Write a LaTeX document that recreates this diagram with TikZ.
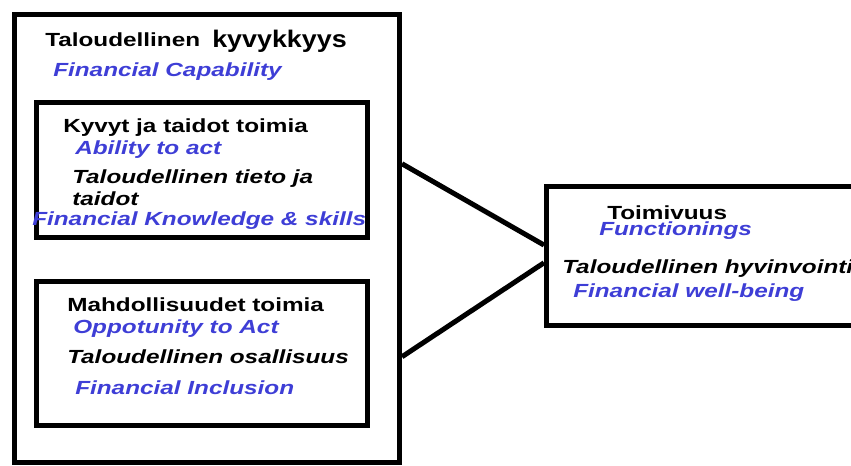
\documentclass[tikz,border=0pt]{standalone}
\usepackage{fontspec}
\usetikzlibrary{calc}
\newfontfamily\labfont{Liberation Sans}[FakeStretch=1.28]
\newfontfamily\bigfont{Liberation Sans}[FakeStretch=1.12]
\definecolor{finblue}{RGB}{62,62,214}
\tikzset{
  box/.style={draw, line width=3.75pt, rectangle, anchor=north west, inner sep=0},
  link/.style={line width=3.75pt},
  fi/.style={anchor=base west, inner sep=0, font=\labfont\fontsize{14.25pt}{17pt}\selectfont\bfseries},
  fiit/.style={fi, font=\labfont\fontsize{14.25pt}{17pt}\selectfont\bfseries\itshape},
  en/.style={fiit, text=finblue}
}
\begin{document}
\begin{tikzpicture}[x=0.75pt,y=-0.75pt]
    \path[use as bounding box, clip] (0,0) rectangle (851,465);
    % boxes
    \node (cap) [box, minimum width=288.75pt, minimum height=336pt] at (12,12) {};
    \node (able) [box, minimum width=248.25pt, minimum height=101.25pt] at (34,100) {};
    \node (opp) [box, minimum width=248.25pt, minimum height=108pt] at (34,279) {};
    \node (func) [box, minimum width=250pt, minimum height=104.25pt] at (544,184) {};
    % texts
    \node (capfi) [fi] at (45,46) {Taloudellinen};
    \node (capbig) [anchor=base west, inner sep=0, font=\bigfont\fontsize{18pt}{22pt}\selectfont\bfseries] at (212,47) {kyvykkyys};
    \node (capen) [en] at (53,76) {Financial Capability};
    \node (ablefi) [fi] at (63,132) {Kyvyt ja taidot toimia};
    \node (ableen) [en] at (75,154) {Ability to act};
    \node (knowfi) [fiit] at (72,183) {Taloudellinen tieto ja};
    \node (knowfib) [fiit] at (72,205) {taidot};
    \node (knowen) [en] at (32,225) {Financial Knowledge \& skills};
    \node (oppfi) [fi] at (67,311) {Mahdollisuudet toimia};
    \node (oppen) [en] at (73,333) {Oppotunity to Act};
    \node (inclfi) [fiit] at (67,363) {Taloudellinen osallisuus};
    \node (inclen) [en] at (75,394) {Financial Inclusion};
    \node (funcfi) [fi] at (607,219) {Toimivuus};
    \node (funcen) [en] at (599,235) {Functionings};
    \node (wellfi) [fiit] at (562,273) {Taloudellinen hyvinvointi};
    \node (wellen) [en] at (573,297) {Financial well-being};
    % connectors
    \draw[link] ($(cap.north east)!0.335!(cap.south east)$) -- ($(func.north west)!0.424!(func.south west)$);
    \draw[link] ($(cap.north east)!0.761!(cap.south east)$) -- ($(func.north west)!0.547!(func.south west)$);
\end{tikzpicture}
\end{document}
